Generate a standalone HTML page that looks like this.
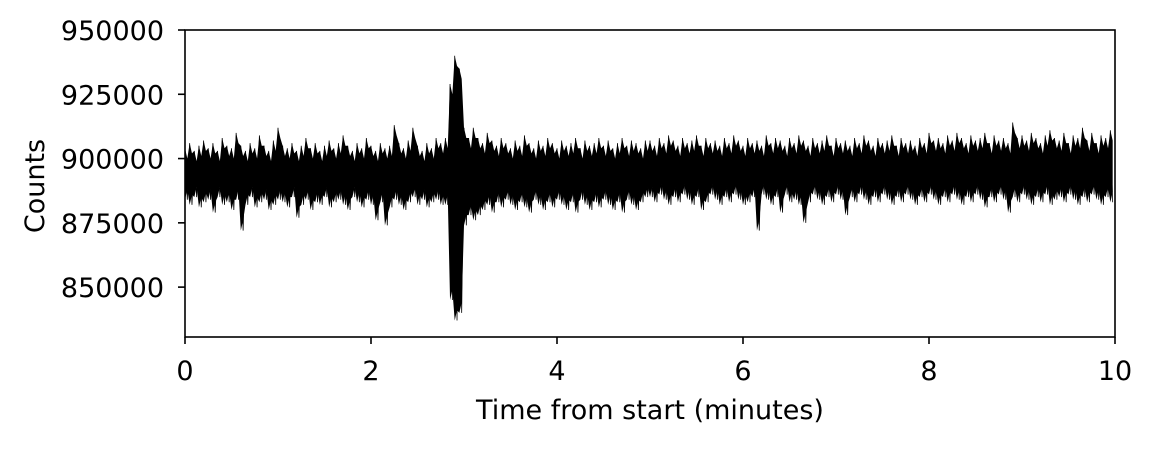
<!DOCTYPE html>
<html><head><meta charset="utf-8"><style>
html,body{margin:0;padding:0;background:#fff;}
svg text{font-family:"DejaVu Sans","Liberation Sans",sans-serif;font-size:27px;fill:#000;}
</style></head><body>
<svg id="chart" width="1152" height="445" viewBox="0 0 1152 445" xmlns="http://www.w3.org/2000/svg">
<rect width="1152" height="445" fill="#fff"/>
<g id="plot"></g>
<rect x="185" y="30" width="930" height="307" fill="none" stroke="#000" stroke-width="1.6"/>
<g id="xt"></g>
<g id="yt"></g>
<text x="650" y="419" text-anchor="middle">Time from start (minutes)</text>
<text transform="translate(44,186) rotate(-90)" text-anchor="middle">Counts</text>
</svg>
<script>
// values in thousands of counts, bins of 0.05 minute
const binWidth = 0.05;
const hiK = [904,906,903,905,907,904,906,903,908,905,904,910,905,903,906,904,909,905,903,907,912,905,904,906,903,905,908,904,906,903,905,907,904,906,909,905,903,906,904,908,905,903,906,904,905,913,906,904,907,912,905,903,906,904,908,906,
908,929,940,935,912,908,
912,908,906,910,907,905,908,906,904,907,905,909,906,904,907,905,908,906,904,907,905,906,908,904,907,905,906,908,905,907,904,906,908,905,907,906,904,907,
907,905,908,906,909,907,905,908,906,907,909,905,908,906,907,905,908,906,909,907,905,908,906,907,905,909,906,908,907,905,908,906,909,907,905,908,906,907,909,905,908,906,907,905,908,906,909,907,905,908,906,907,909,905,908,906,907,905,908,906,910,907,908,906,909,907,910,908,906,909,907,908,910,906,909,907,908,906,914,908,909,907,910,908,906,909,911,908,907,910,906,909,908,912,907,910,906,909,908,911];
const loK = [884,882,885,881,883,884,879,885,882,883,880,884,872,882,885,881,883,884,880,882,884,883,881,885,877,882,884,880,883,882,885,881,883,884,882,880,885,883,881,884,882,876,883,874,881,884,882,880,883,885,882,884,881,883,884,882,
882,845,837,840,874,878,
876,878,880,882,879,883,881,884,882,880,883,881,879,884,882,880,883,881,884,882,880,883,879,884,882,880,883,881,884,882,880,883,879,884,882,880,883,885,
885,883,886,884,882,885,883,886,884,882,885,880,883,886,884,882,885,883,886,884,882,883,885,872,886,884,882,885,879,886,883,884,882,875,883,886,884,882,885,883,886,884,878,885,883,886,884,882,885,883,886,884,882,885,883,886,884,882,885,883,886,884,882,885,883,886,884,882,885,883,886,884,881,885,883,886,884,879,885,883,886,884,882,885,883,886,882,884,885,883,886,884,882,885,883,886,884,882,885,883];
const xTicks = [0,2,4,6,8,10];
const yTicks = [850000,875000,900000,925000,950000];
const X0=185,X1=1115,Y0=30,Y1=337, xmin=0,xmax=10,ymin=830600,ymax=950000;
const xs=v=>X0+(v-xmin)/(xmax-xmin)*(X1-X0);
const ys=v=>Y1-(v-ymin)/(ymax-ymin)*(Y1-Y0);
const NS="http://www.w3.org/2000/svg";
const plot=document.getElementById('plot');
const n=Math.min(hiK.length,loK.length);
let pts=[];
for(let i=0;i<n;i++){const t0=i*binWidth,t1=t0+binWidth;pts.push(xs(t0)+','+ys(hiK[i]*1000));pts.push(xs((t0+t1)/2)+','+ys(hiK[i]*1000-4000));}
for(let i=n-1;i>=0;i--){const t0=i*binWidth,t1=t0+binWidth;pts.push(xs((t0+t1)/2)+','+ys(loK[i]*1000+4000));pts.push(xs(t0)+','+ys(loK[i]*1000));}
const poly=document.createElementNS(NS,'polygon');


poly.setAttribute('points',pts.join(' '));
poly.setAttribute('fill','#000');
plot.appendChild(poly);
let zz=[];
for(let i=0;i<n;i++){const t=i*binWidth;zz.push(xs(t)+','+ys(hiK[i]*1000));zz.push(xs(t+binWidth/2)+','+ys(loK[i]*1000));}
const line=document.createElementNS(NS,'polyline');


line.setAttribute('points',zz.join(' '));
line.setAttribute('fill','none');line.setAttribute('stroke','#000');line.setAttribute('stroke-width','0.8');
plot.appendChild(line);
const xt=document.getElementById('xt'),yt=document.getElementById('yt');
xTicks.forEach(v=>{
 const l=document.createElementNS(NS,'line');
 
 
 l.setAttribute('x1',xs(v));l.setAttribute('x2',xs(v));l.setAttribute('y1',Y1);l.setAttribute('y2',Y1+7);l.setAttribute('stroke','#000');l.setAttribute('stroke-width','1.6');
 xt.appendChild(l);
 const t=document.createElementNS(NS,'text');
 
 
 t.setAttribute('x',xs(v));t.setAttribute('y',Y1+43);t.setAttribute('text-anchor','middle');t.textContent=v;
 xt.appendChild(t);
});
yTicks.forEach(v=>{
 const l=document.createElementNS(NS,'line');
 
 
 l.setAttribute('x1',X0-7);l.setAttribute('x2',X0);l.setAttribute('y1',ys(v));l.setAttribute('y2',ys(v));l.setAttribute('stroke','#000');l.setAttribute('stroke-width','1.6');
 yt.appendChild(l);
 const t=document.createElementNS(NS,'text');
 
 
 t.setAttribute('x',X0-21);t.setAttribute('y',ys(v)+10);t.setAttribute('text-anchor','end');t.textContent=v;
 yt.appendChild(t);
});
</script>
</body></html>
